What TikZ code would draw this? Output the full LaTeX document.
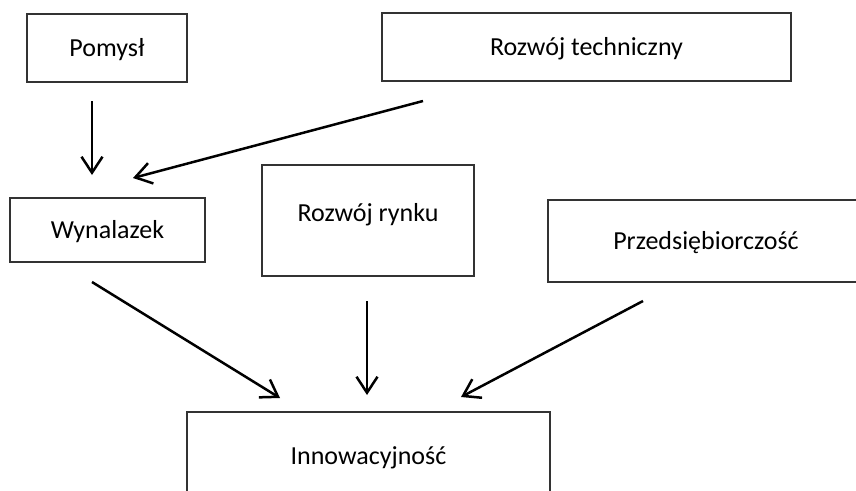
\documentclass[tikz,border=0pt]{standalone}
\usepackage{fontspec}
\setmainfont{Carlito}
\usetikzlibrary{arrows.meta}
\begin{document}
\begin{tikzpicture}[x=1pt,y=-1pt,
  box/.style={draw=black!80, line width=1.3pt, inner sep=0pt,
    text height=16.6pt, text depth=0pt, text=black,
    font=\fontsize{26}{30}\selectfont},
  flow/.style={line width=2.5pt, draw=black,
    -{Straight Barb[length=16pt,width=21pt]}}]
\useasboundingbox (0,0) rectangle (856,490);
\clip (0,0) rectangle (856,490);
\fill[white] (0,0) rectangle (856,490);

% boxes
\node[box, minimum width=160pt, minimum height=68pt] (pomysl) at (107,48) {Pomysł};
\node[box, minimum width=409pt, minimum height=68pt] (tech) at (586.5,47) {Rozwój techniczny};
\node[box, minimum width=195pt, minimum height=64pt] (wyn) at (107.5,230) {Wynalazek};
\node[box, minimum width=212pt, minimum height=111pt, text depth=14pt] (rynek) at (368,220.5) {Rozwój rynku};
\node[box, minimum width=316pt, minimum height=82pt] (przed) at (706,241) {Przedsiębiorczość};
\node[box, minimum width=363pt, minimum height=88pt] (innow) at (368.5,456) {Innowacyjność};

% free arrow ends
\coordinate (p1) at (92,101);  \coordinate (w1) at (92,175);
\coordinate (t1) at (423,101); \coordinate (w2) at (133,178);
\coordinate (w3) at (92,282);  \coordinate (i1) at (280,398);
\coordinate (r1) at (367,301); \coordinate (i2) at (367,395);
\coordinate (z1) at (643,301); \coordinate (i3) at (461,397);

% connectors
\draw[flow] (p1) -- (w1);
\draw[flow] (t1) -- (w2);
\draw[flow] (w3) -- (i1);
\draw[flow] (r1) -- (i2);
\draw[flow] (z1) -- (i3);
\end{tikzpicture}
\end{document}
